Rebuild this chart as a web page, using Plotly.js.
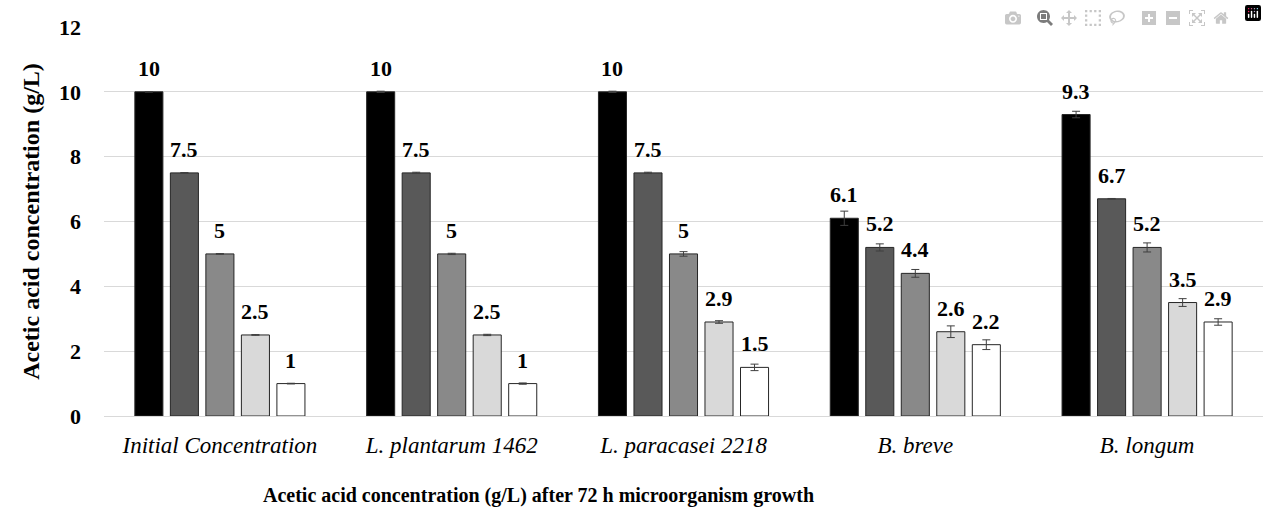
<!DOCTYPE html>
<html>
<head>
<meta charset="utf-8">
<script src="https://cdn.plot.ly/plotly-3.0.1.min.js"></script>
</head>
<body style="margin:0;font-size:22px;font-family:'Liberation Serif'">
<div id="chart" style="width:1267px;height:514px"></div>
<script>
// Groups along the x axis
const categories = ['Initial Concentration', 'L. plantarum 1462', 'L. paracasei 2218', 'B. breve', 'B. longum'];

// One series per starting acetic acid level (g/L)
const seriesNames = ['10 g/L', '7.5 g/L', '5 g/L', '2.5 g/L', '1 g/L'];

const values10  = [10, 10, 10, 6.1, 9.3];
const values75  = [7.5, 7.5, 7.5, 5.2, 6.7];
const values5   = [5, 5, 5, 4.4, 5.2];
const values25  = [2.5, 2.5, 2.9, 2.6, 3.5];
const values1   = [1, 1, 1.5, 2.2, 2.9];

// Standard deviations
const sd10  = [0.01, 0.02, 0.02, 0.22, 0.10];
const sd75  = [0.01, 0.02, 0.02, 0.11, 0.01];
const sd5   = [0.01, 0.02, 0.07, 0.12, 0.14];
const sd25  = [0.01, 0.02, 0.04, 0.18, 0.12];
const sd1   = [0.01, 0.02, 0.10, 0.15, 0.10];

const yTicks = [0, 2, 4, 6, 8, 10, 12];

const allValues = [values10, values75, values5, values25, values1];
const allSd = [sd10, sd75, sd5, sd25, sd1];
const fills = ['#000000', '#595959', '#898989', '#d9d9d9', '#ffffff'];

const W = 1267, H = 514;
const margin = { l: 104, r: 4, t: 27, b: 98 };
const bargap = 0.234;
const bargroupgap = 0.21;
const FONT = 'Liberation Serif';

const traces = allValues.map((vals, i) => ({
  type: 'bar',
  name: seriesNames[i],
  x: categories,
  y: vals,
  marker: { color: fills[i], line: { color: '#262626', width: 1 } },
  error_y: { type: 'data', array: allSd[i], visible: true, color: '#3f3f3f', thickness: 1, width: 4 },
  showlegend: false,
  hoverinfo: 'x+y'
}));

// Value labels sit above each bar, offset sideways to its slot in the group
const plotW = W - margin.l - margin.r;
const slot = (plotW / categories.length) * (1 - bargap) / allValues.length;
const annotations = [];
allValues.forEach((vals, i) => {
  vals.forEach((v, j) => {
    annotations.push({
      x: categories[j], y: v, xref: 'x', yref: 'y',
      text: '<b>' + String(v) + '</b>', showarrow: false,
      xanchor: 'center', yanchor: 'bottom',
      xshift: (i - (allValues.length - 1) / 2) * slot,
      yshift: 9,
      font: { family: FONT, size: 22, color: '#000000' }
    });
  });
});

// Axis caption under the categories
annotations.push({
  xref: 'paper', yref: 'paper', x: 0.3753, y: -0.205,
  xanchor: 'center', yanchor: 'middle', showarrow: false,
  text: '<b>Acetic acid concentration (g/L) after 72 h microorganism growth</b>',
  font: { family: FONT, size: 20, color: '#000000' }
});

const layout = {
  width: W, height: H,
  margin: margin,
  paper_bgcolor: '#ffffff', plot_bgcolor: '#ffffff',
  font: { family: FONT, size: 22, color: '#000000' },
  barmode: 'group', bargap: bargap, bargroupgap: bargroupgap,
  xaxis: {
    type: 'category',
    showgrid: false, showline: false, zeroline: false,
    ticks: '',
    tickvals: categories,
    ticktext: categories.map(c => '<i>' + c + '</i>'),
    tickfont: { family: FONT, size: 23, color: '#000000' },
    ticklabelstandoff: 13
  },
  yaxis: {
    range: [0, 12],
    tickvals: yTicks,
    ticktext: yTicks.map(t => '<b>' + t + '</b>'),
    showgrid: true, gridcolor: '#d9d9d9', gridwidth: 1,
    zeroline: true, zerolinecolor: '#d9d9d9', zerolinewidth: 1,
    showline: false, ticks: '',
    ticklabelstandoff: 22,
    tickfont: { family: FONT, size: 22, color: '#000000' },
    title: { text: '<b>Acetic acid concentration (g/L)</b>', standoff: 12,
             font: { family: FONT, size: 24, color: '#000000' } }
  },
  annotations: annotations
};

Plotly.newPlot('chart', traces, layout);
</script>
</body>
</html>
